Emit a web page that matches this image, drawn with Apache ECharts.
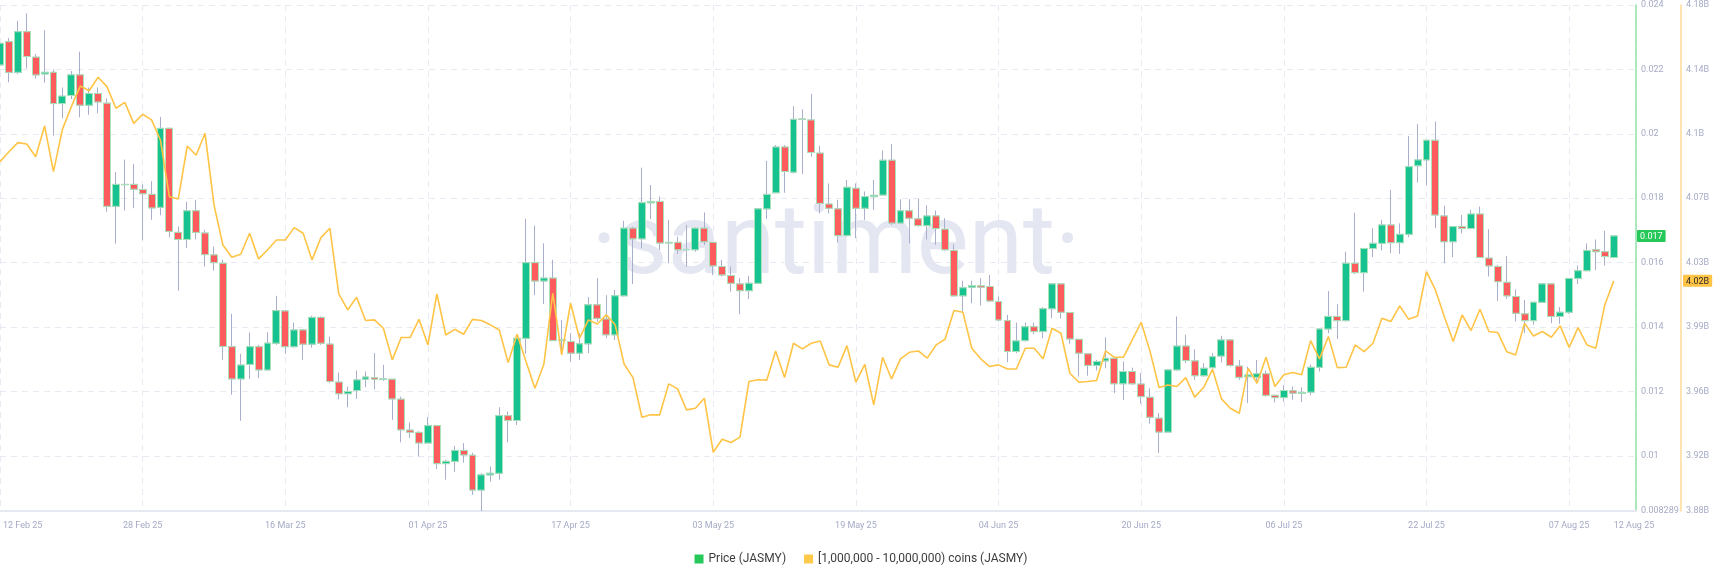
<!DOCTYPE html>
<html><head><meta charset="utf-8">
<script src="https://cdn.jsdelivr.net/npm/echarts@6/dist/echarts.min.js"></script>
<style>html,body{margin:0;padding:0;background:#fff}#c{width:1722px;height:582px}</style>
</head><body><div id="c"></div>
<script>
// ---- data ----
const startDay = [2025, 1, 12]; // 12 Feb 2025, daily candles
const open = [
0.02214,0.02286,0.02191,0.02317,0.02238,0.02186,0.02191,0.02094,0.02119,0.02183,
0.02089,0.02125,0.02095,0.01775,0.01843,0.01843,0.01827,0.01812,0.01772,0.02017,
0.01694,0.01672,0.01761,0.01692,0.01624,0.01598,0.01339,0.01239,0.01284,0.01339,
0.01267,0.01350,0.01450,0.01339,0.01391,0.01347,0.01430,0.01347,0.01229,0.01193,
0.01203,0.01238,0.01243,0.01238,0.01238,0.01176,0.01080,0.01073,0.01040,0.01094,
0.00976,0.00983,0.01017,0.01002,0.00894,0.00941,0.00946,0.01125,0.01110,0.01365,
0.01600,0.01543,0.01552,0.01358,0.01355,0.01319,0.01348,0.01469,0.01425,0.01376,
0.01497,0.01707,0.01674,0.01786,0.01790,0.01661,0.01663,0.01640,0.01640,0.01707,
0.01663,0.01588,0.01560,0.01534,0.01513,0.01536,0.01767,0.01817,0.01959,0.01881,
0.02046,0.02043,0.01940,0.01782,0.01767,0.01684,0.01831,0.01769,0.01805,0.01810,
0.01918,0.01723,0.01761,0.01736,0.01715,0.01745,0.01704,0.01638,0.01497,0.01524,
0.01529,0.01526,0.01479,0.01420,0.01324,0.01358,0.01401,0.01386,0.01457,0.01534,
0.01445,0.01362,0.01317,0.01281,0.01295,0.01303,0.01224,0.01262,0.01223,0.01182,
0.01117,0.01074,0.01267,0.01341,0.01295,0.01249,0.01274,0.01310,0.01360,0.01279,
0.01246,0.01244,0.01255,0.01188,0.01181,0.01202,0.01194,0.01198,0.01275,0.01394,
0.01433,0.01420,0.01598,0.01569,0.01644,0.01660,0.01717,0.01662,0.01688,0.01901,
0.01919,0.01980,0.01745,0.01665,0.01712,0.01706,0.01751,0.01614,0.01588,0.01539,
0.01495,0.01441,0.01420,0.01477,0.01534,0.01433,0.01446,0.01551,0.01575,0.01640,
0.01634,0.01616];
const close = [
0.02281,0.02191,0.02317,0.02240,0.02183,0.02191,0.02094,0.02117,0.02183,0.02089,
0.02125,0.02099,0.01775,0.01843,0.01842,0.01828,0.01814,0.01770,0.02017,0.01697,
0.01672,0.01761,0.01694,0.01625,0.01600,0.01340,0.01239,0.01282,0.01339,0.01267,
0.01350,0.01451,0.01339,0.01391,0.01347,0.01430,0.01350,0.01231,0.01193,0.01200,
0.01236,0.01245,0.01238,0.01239,0.01177,0.01081,0.01073,0.01040,0.01094,0.00976,
0.00983,0.01017,0.01003,0.00894,0.00941,0.00946,0.01125,0.01110,0.01365,0.01600,
0.01543,0.01552,0.01358,0.01360,0.01319,0.01348,0.01469,0.01427,0.01376,0.01497,
0.01707,0.01674,0.01786,0.01790,0.01661,0.01663,0.01640,0.01641,0.01707,0.01665,
0.01590,0.01562,0.01536,0.01513,0.01536,0.01767,0.01812,0.01959,0.01883,0.02045,
0.02045,0.01942,0.01784,0.01769,0.01684,0.01834,0.01769,0.01805,0.01809,0.01918,
0.01723,0.01761,0.01738,0.01715,0.01745,0.01706,0.01640,0.01497,0.01522,0.01529,
0.01524,0.01481,0.01422,0.01324,0.01357,0.01401,0.01386,0.01457,0.01534,0.01446,
0.01363,0.01319,0.01281,0.01293,0.01303,0.01224,0.01262,0.01224,0.01184,0.01120,
0.01074,0.01267,0.01341,0.01296,0.01249,0.01272,0.01308,0.01360,0.01281,0.01244,
0.01251,0.01255,0.01188,0.01181,0.01203,0.01195,0.01197,0.01275,0.01394,0.01433,
0.01420,0.01598,0.01569,0.01644,0.01660,0.01717,0.01662,0.01688,0.01898,0.01919,
0.01980,0.01748,0.01665,0.01712,0.01706,0.01751,0.01616,0.01590,0.01541,0.01497,
0.01443,0.01420,0.01477,0.01534,0.01433,0.01446,0.01551,0.01575,0.01638,0.01634,
0.01619,0.01683];
const low = [
0.02203,0.02160,0.02185,0.02203,0.02172,0.02159,0.01994,0.02048,0.02108,0.02051,
0.02059,0.02064,0.01758,0.01659,0.01762,0.01769,0.01670,0.01733,0.01747,0.01679,
0.01513,0.01645,0.01672,0.01588,0.01575,0.01298,0.01190,0.01109,0.01239,0.01241,
0.01265,0.01345,0.01317,0.01337,0.01298,0.01336,0.01345,0.01226,0.01176,0.01151,
0.01177,0.01213,0.01207,0.01233,0.01112,0.01042,0.01055,0.00998,0.01040,0.00959,
0.00926,0.00950,0.00979,0.00879,0.008289,0.00920,0.00926,0.01042,0.01096,0.01317,
0.01499,0.01472,0.01358,0.01317,0.01293,0.01298,0.01319,0.01417,0.01365,0.01360,
0.01495,0.01534,0.01645,0.01735,0.01639,0.01598,0.01627,0.01588,0.01634,0.01655,
0.01562,0.01557,0.01510,0.01440,0.01487,0.01534,0.01736,0.01817,0.01817,0.01877,
0.01875,0.01929,0.01753,0.01753,0.01662,0.01681,0.01676,0.01733,0.01764,0.01810,
0.01717,0.01720,0.01660,0.01712,0.01672,0.01655,0.01638,0.01495,0.01448,0.01474,
0.01467,0.01479,0.01417,0.01291,0.01319,0.01355,0.01378,0.01365,0.01427,0.01427,
0.01348,0.01246,0.01249,0.01265,0.01272,0.01195,0.01174,0.01221,0.01162,0.01100,
0.01009,0.01074,0.01265,0.01288,0.01236,0.01246,0.01272,0.01290,0.01277,0.01236,
0.01164,0.01226,0.01184,0.01166,0.01169,0.01174,0.01167,0.01188,0.01262,0.01381,
0.01363,0.01417,0.01565,0.01510,0.01617,0.01638,0.01629,0.01627,0.01679,0.01849,
0.01841,0.01707,0.01598,0.01617,0.01691,0.01704,0.01614,0.01557,0.01481,0.01487,
0.01417,0.01381,0.01407,0.01476,0.01412,0.01410,0.01441,0.01534,0.01575,0.01577,
0.01591,0.01614];
const high = [
0.02291,0.02297,0.02351,0.02374,0.02248,0.02322,0.02200,0.02144,0.02195,0.02255,
0.02144,0.02144,0.02110,0.01881,0.01920,0.01906,0.01843,0.01853,0.02052,0.02019,
0.01712,0.01789,0.01795,0.01702,0.01650,0.01609,0.01441,0.01317,0.01383,0.01345,
0.01384,0.01497,0.01453,0.01414,0.01394,0.01435,0.01433,0.01371,0.01259,0.01215,
0.01265,0.01262,0.01319,0.01283,0.01238,0.01184,0.01104,0.01076,0.01120,0.01094,
0.00988,0.01031,0.01040,0.01010,0.00946,0.00967,0.01151,0.01138,0.01365,0.01736,
0.01715,0.01660,0.01609,0.01422,0.01381,0.01381,0.01493,0.01552,0.01499,0.01515,
0.01730,0.01712,0.01895,0.01841,0.01805,0.01733,0.01681,0.01717,0.01710,0.01756,
0.01663,0.01609,0.01588,0.01552,0.01559,0.01767,0.01916,0.01965,0.01965,0.02086,
0.02076,0.02124,0.01963,0.01846,0.01795,0.01857,0.01846,0.01821,0.01857,0.01948,
0.01968,0.01797,0.01797,0.01798,0.01778,0.01762,0.01738,0.01657,0.01544,0.01544,
0.01552,0.01562,0.01495,0.01438,0.01414,0.01414,0.01414,0.01462,0.01536,0.01534,
0.01445,0.01362,0.01319,0.01298,0.01368,0.01303,0.01293,0.01274,0.01257,0.01210,
0.01133,0.01267,0.01433,0.01376,0.01331,0.01288,0.01319,0.01373,0.01362,0.01298,
0.01277,0.01298,0.01265,0.01190,0.01220,0.01215,0.01213,0.01283,0.01396,0.01512,
0.01471,0.01634,0.01755,0.01644,0.01707,0.01733,0.01826,0.01722,0.01993,0.02030,
0.01981,0.02038,0.01777,0.01712,0.01748,0.01764,0.01774,0.01704,0.01593,0.01621,
0.01517,0.01484,0.01477,0.01536,0.01534,0.01462,0.01552,0.01591,0.01660,0.01672,
0.01699,0.01683];
// [1,000,000 - 10,000,000) coins held, in billions
const holders = [
4.0888,4.0946,4.0999,4.0991,4.0917,4.1096,4.0830,4.1076,4.1208,4.1328,
4.1301,4.1379,4.1325,4.1199,4.1233,4.1111,4.1164,4.1131,4.1014,4.0684,
4.0671,4.0979,4.0925,4.1053,4.0636,4.0403,4.0331,4.0349,4.0471,4.0322,
4.0374,4.0432,4.0432,4.0504,4.0471,4.0316,4.0446,4.0500,4.0118,4.0025,
4.0099,3.9963,3.9967,3.9918,3.9734,3.9864,3.9864,3.9970,3.9821,4.0118,
3.9879,3.9912,3.9883,3.9970,3.9963,3.9938,3.9908,3.9718,3.9883,3.9724,
3.9569,3.9708,4.0122,3.9763,4.0064,3.9860,3.9967,3.9943,3.9996,3.9938,
3.9710,3.9631,3.9400,3.9414,3.9414,3.9594,3.9565,3.9443,3.9452,3.9511,
3.9196,3.9272,3.9253,3.9284,3.9608,3.9618,3.9616,3.9786,3.9631,3.9831,
3.9798,3.9831,3.9844,3.9705,3.9691,3.9817,3.9604,3.9708,3.9472,3.9749,
3.9623,3.9740,3.9778,3.9786,3.9744,3.9821,3.9854,4.0021,4.0011,3.9802,
3.9740,3.9695,3.9705,3.9681,3.9681,3.9802,3.9802,3.9740,3.9918,3.9889,
3.9656,3.9604,3.9608,3.9614,3.9786,3.9749,3.9749,3.9850,3.9953,3.9782,
3.9573,3.9588,3.9579,3.9631,3.9517,3.9573,3.9679,3.9507,3.9452,3.9423,
3.9685,3.9598,3.9749,3.9579,3.9647,3.9660,3.9647,3.9846,3.9740,3.9870,
3.9689,3.9691,3.9821,3.9782,3.9831,3.9976,3.9957,4.0048,3.9970,3.9990,
4.0248,4.0141,3.9986,3.9841,3.9996,3.9905,4.0029,3.9899,3.9893,3.9782,
3.9763,3.9947,3.9873,3.9899,3.9866,3.9932,3.9807,3.9922,3.9821,3.9802,
4.0054,4.0194];
// axis ticks
const xTickIndex = [0,16,32,48,64,80,96,112,128,144,160,176,181];
const priceTicks = [0.008289,0.01,0.012,0.014,0.016,0.018,0.02,0.022,0.024];
const holderTickLabels = [3.88,3.92,3.96,3.99,4.03,4.07,4.1,4.14,4.18];
const priceMin = 0.008289, priceMax = 0.024;
const holderMin = 3.885419, holderMax = 4.18;

// ---- build ----
const MON = ['Jan','Feb','Mar','Apr','May','Jun','Jul','Aug','Sep','Oct','Nov','Dec'];
const N = open.length;
const days = [];
const t0 = Date.UTC(startDay[0], startDay[1], startDay[2]);
for (let i = 0; i < N; i++) {
  const d = new Date(t0 + i * 86400000);
  days.push(String(d.getUTCDate()).padStart(2,'0') + ' ' + MON[d.getUTCMonth()] + ' ' + String(d.getUTCFullYear()).slice(2));
}
const candleData = open.map((o, i) => [i, o, close[i], low[i], high[i]]);
const bodyData = open.map((o, i) => [i, o, close[i], Math.min(o, close[i]), Math.max(o, close[i])]);
const lineData = holders.map((v, i) => [i, v]);
const holderTickPos = priceTicks.map(p => holderMin + (p - priceMin) / (priceMax - priceMin) * (holderMax - holderMin));

const FONT = 'Roboto';
const ctx = document.createElement('canvas').getContext('2d');
ctx.font = '9px ' + FONT;
const wFirst = ctx.measureText(days[0]).width;
const wLast = ctx.measureText(days[N - 1]).width;

const gridColor = '#e8eaf3';
const labelColor = '#a4aac4';
const chart = echarts.init(document.getElementById('c'));
chart.setOption({
  animation: false,
  textStyle: { fontFamily: FONT },
  axisPointer: { triggerOn: 'none' },
  grid: { left: 0, right: 86, top: 5, bottom: 71, containLabel: false },
  graphic: [{
    type: 'text', x: 836, y: 248, silent: true, z: 0,
    style: { text: '·santiment·', fill: '#e4e6f1', font: '400 98px ' + FONT, textAlign: 'center', textVerticalAlign: 'middle', verticalAlign: 'middle' }
  }],
  legend: {
    bottom: 12, left: 'center', icon: 'rect', itemWidth: 9, itemHeight: 9, itemGap: 18,
    textStyle: { color: '#3d3d3d', fontSize: 12, fontFamily: FONT },
    data: [
      { name: 'Price (JASMY)', itemStyle: { color: '#27c85a', borderWidth: 0 } },
      { name: '[1,000,000 - 10,000,000) coins (JASMY)', itemStyle: { color: '#ffc94a', borderWidth: 0 } }
    ]
  },
  xAxis: {
    type: 'value', min: 0, max: 183.5, interval: 16,
    axisLine: { show: true, onZero: false, lineStyle: { color: '#e6e9f2', width: 2 } },
    axisTick: { show: false },
    splitLine: { show: true, lineStyle: { color: gridColor, type: [6, 5], width: 1 } },
    axisLabel: {
      customValues: xTickIndex, color: labelColor, fontSize: 9, margin: 10,
      formatter: v => { const i = Math.round(v); const s = days[i]; if (i === 0) return '{f|' + s + '}'; if (i === N - 1) return '{l|' + s + '}'; return s; },
      rich: {
        f: { padding: [0, 0, 0, wFirst + 6], fontSize: 9, color: labelColor, fontFamily: FONT },
        l: { padding: [0, 0, 0, wLast], fontSize: 9, color: labelColor, fontFamily: FONT }
      }
    }
  },
  yAxis: [{
    type: 'value', position: 'right', min: priceMin, max: priceMax, splitNumber: 8,
    axisLine: { show: true, onZero: false, lineStyle: { color: '#93e1a7', width: 1.5 } },
    axisTick: { show: false },
    splitLine: { show: true, lineStyle: { color: gridColor, type: [6, 5], width: 1 } },
    axisLabel: { customValues: priceTicks, color: labelColor, fontSize: 9, margin: 5, formatter: v => String(v) },
    axisPointer: {
      show: true, status: 'show', value: close[N - 1], type: 'line', lineStyle: { opacity: 0 }, triggerTooltip: false,
      label: { show: true, margin: 1, backgroundColor: '#27c85a', color: '#fff', fontSize: 9, padding: [2, 3, 1, 3], borderRadius: 1, formatter: p => Number(p.value).toFixed(3) }
    }
  }, {
    type: 'value', position: 'right', offset: 45, min: holderMin, max: holderMax,
    axisLine: { show: true, onZero: false, lineStyle: { color: '#ffdb94', width: 1.5 } },
    axisTick: { show: false },
    splitLine: { show: false },
    axisLabel: {
      customValues: holderTickPos, color: labelColor, fontSize: 9, margin: 5,
      formatter: v => { let k = 0, best = 1e9; holderTickPos.forEach((p, j) => { const d = Math.abs(p - v); if (d < best) { best = d; k = j; } }); return holderTickLabels[k] + 'B'; }
    },
    axisPointer: {
      show: true, status: 'show', value: holders[N - 1], type: 'line', lineStyle: { opacity: 0 }, triggerTooltip: false,
      label: { show: true, margin: 2, backgroundColor: '#ffc445', color: '#2a2a2a', fontSize: 9, padding: [2, 3, 1, 3], borderRadius: 1, formatter: p => Number(p.value).toFixed(2) + 'B' }
    }
  }],
  series: [{
    name: 'Price (JASMY)', type: 'candlestick', data: candleData, barWidth: 7.4, z: 2,
    itemStyle: { color: '#16c28f', color0: '#fd5b5d', borderColor: '#a9aecd', borderColor0: '#a9aecd', borderWidth: 1 }
  }, {
    name: 'body', type: 'candlestick', data: bodyData, barWidth: 7.4, z: 3, silent: true,
    itemStyle: { color: '#16c28f', color0: '#fd5b5d', borderColor: '#a8e4b8', borderColor0: '#a8e4b8', borderWidth: 1 }
  }, {
    name: '[1,000,000 - 10,000,000) coins (JASMY)', type: 'line', yAxisIndex: 1, data: lineData,
    symbol: 'none', showSymbol: false, z: 5,
    lineStyle: { color: '#ffc446', width: 1.6 }, itemStyle: { color: '#ffc446' }
  }]
});
</script>
</body></html>
